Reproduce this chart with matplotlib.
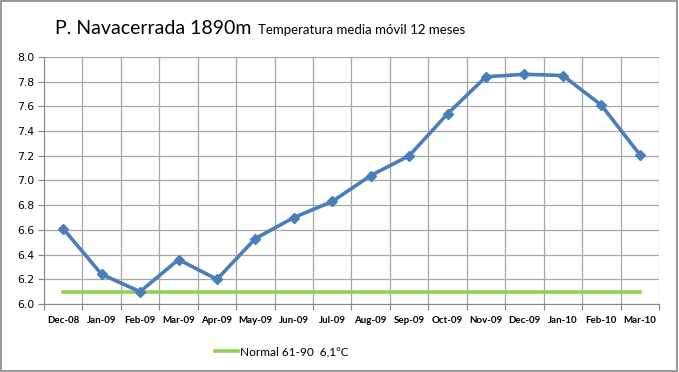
import numpy as np
import matplotlib.pyplot as plt
from matplotlib.patches import Rectangle

months = ["Dec-08", "Jan-09", "Feb-09", "Mar-09", "Apr-09", "May-09", "Jun-09", "Jul-09",
          "Aug-09", "Sep-09", "Oct-09", "Nov-09", "Dec-09", "Jan-10", "Feb-10", "Mar-10"]
temp_media = [6.61, 6.24, 6.10, 6.36, 6.20, 6.53, 6.70, 6.83,
              7.04, 7.20, 7.54, 7.84, 7.86, 7.85, 7.61, 7.21]
normal = [6.1] * len(months)

fig = plt.figure(figsize=(6.79, 3.72), dpi=100)
ax = fig.add_axes([0.0648, 0.1828, 0.9057, 0.664])

x = np.arange(len(months))
ax.plot(x, temp_media, color="#4a7ebb", linewidth=2.6, marker="D", markersize=5.5, zorder=3)
ax.plot(x, normal, color="#92D050", linewidth=2.6, label="Normal 61-90  6,1ºC", zorder=2)

ax.set_xlim(-0.5, len(months) - 0.5)
ax.set_ylim(6.0, 8.0)
yt = np.arange(6.0, 8.01, 0.2)
ax.set_yticks(yt)
ax.set_yticklabels([f"{v:.1f}" for v in yt], fontsize=7.8, family="DejaVu Sans")
ax.set_xticks(np.arange(-0.5, len(months), 1.0))
ax.set_xticklabels([])
ax.set_xticks(x, minor=True)
ax.set_xticklabels(months, minor=True, fontsize=7, family="Lato", fontweight="bold")
ax.tick_params(axis="x", which="minor", length=0, pad=9)
ax.tick_params(axis="x", which="major", length=4, direction="out", color="#888888")
ax.tick_params(axis="y", length=4, direction="out", color="#888888", pad=3)

ax.grid(True, which="major", color="#a6a6a6", linewidth=0.9)
ax.set_axisbelow(True)
for s in ["top", "right"]:
    ax.spines[s].set_visible(False)
ax.spines["left"].set_color("#888888")
ax.spines["bottom"].set_color("#888888")

fig.legend(loc="center", bbox_to_anchor=(282 / 679, 0.054), frameon=False,
           handlelength=1.9, handletextpad=0.2, prop={"family": "Lato", "size": 8.5})

# title in two parts, laid out side by side
t1 = fig.text(0, 1 - 28 / 372, "P. Navacerrada 1890m", fontsize=14, family="Lato",
              va="center", ha="left")
t2 = fig.text(0, 1 - 30 / 372, "Temperatura media móvil 12 meses", fontsize=9.5,
              family="Lato", va="center", ha="left")
r = fig.canvas.get_renderer()
w1 = t1.get_window_extent(r).width
w2 = t2.get_window_extent(r).width
gap = 6
start = 260 - (w1 + gap + w2) / 2
t1.set_x(start / 679)
t2.set_x((start + w1 + gap) / 679)

fig.patches.append(Rectangle((0.002, 0.003), 0.995, 0.994, transform=fig.transFigure,
                             fill=False, edgecolor="#888888", linewidth=1.2))

fig.savefig("out.png", dpi=100)
